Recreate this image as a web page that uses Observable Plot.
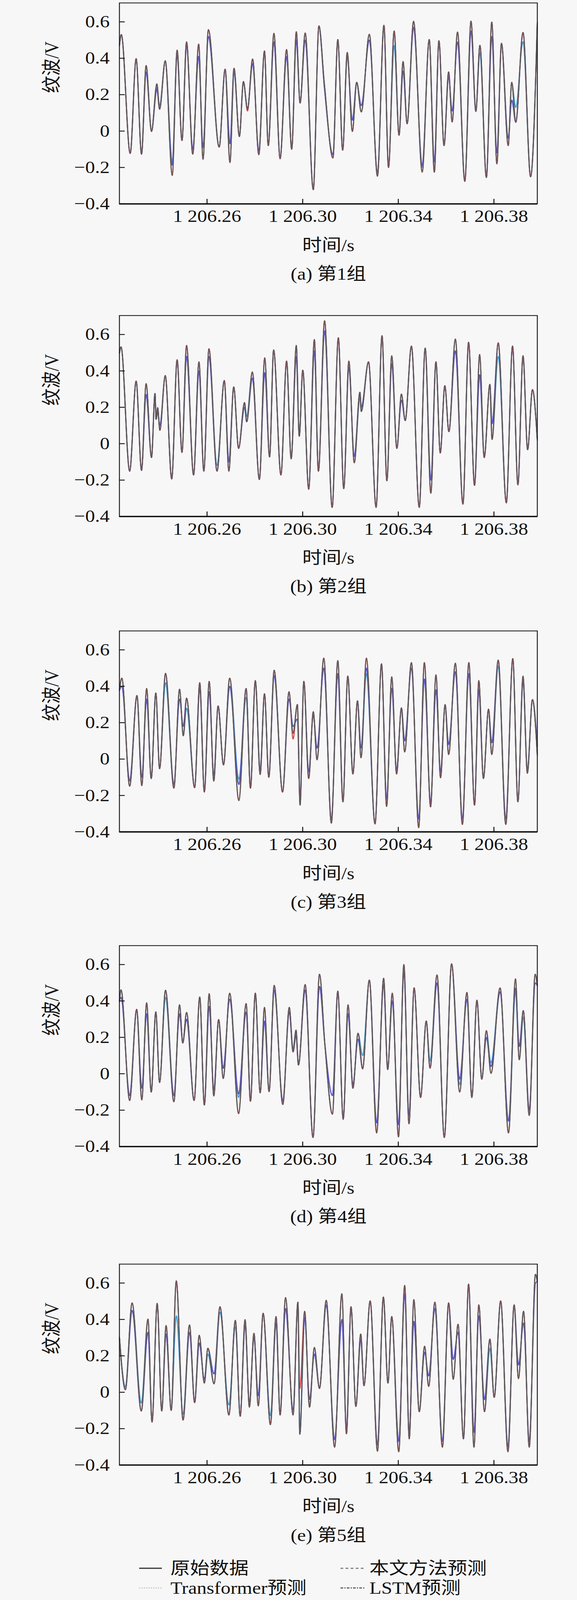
<!DOCTYPE html>
<html><head><meta charset="utf-8">
<script src="https://cdn.jsdelivr.net/npm/d3@7"></script>
<script src="https://cdn.jsdelivr.net/npm/@observablehq/plot@0.6"></script>
<style>
html,body{margin:0;padding:0;background:#f7f7f7;overflow:hidden;}
#root{position:relative;width:1476px;height:4642px;background:#f7f7f7;overflow:hidden;}
#root svg{position:absolute;left:0;}
</style></head><body><div id="root"></div>
<script>
// time base (s); times stored in ms after the base
const BASE = 1206.22;
const xTicks = [1206.26, 1206.30, 1206.34, 1206.38];
const yTicks = [-0.4, -0.2, 0, 0.2, 0.4, 0.6];
const captions = ["(a) 第1组", "(b) 第2组", "(c) 第3组", "(d) 第4组", "(e) 第5组"];
const seriesNames = ["原始数据", "本文方法预测", "Transformer预测", "LSTM预测"];

// ---- panel (a) ----
const tA = [3.35,4.14,7.86,10.34,12.59,14.51,16.77,19.02,20.15,22.52,25.45,27.48,29.51,31.43,34.02,36.50,38.31,40.56,45.07,47.56,49.59,51.28,53.53,55.22,56.92,59.06,61.65,64.02,65.60,67.97,70.56,73.27,75.41,77.33,78.91,81.05,84.44,86.80,89.06,92.67,94.70,96.73,98.64,100.79,102.59,104.51,107.89,111.28,113.98,115.90,118.27,120.30,121.99,123.68,126.39,130.00,132.93,135.07,136.99,139.13,141.05,142.52,144.77,147.82,150.41,152.44,154.13,156.84,159.10,161.24,163.16,165.97,167.44,169.13,172.17,175.33,178.15];
const vA = [0.47,0.53,-0.123,0.398,-0.127,0.36,-0.002,0.26,0.12,0.386,-0.244,0.445,-0.052,0.49,-0.127,0.478,-0.155,0.557,-0.088,0.34,-0.173,0.345,-0.03,0.272,0.12,0.396,-0.13,0.44,-0.08,0.537,-0.152,0.448,-0.10,0.546,0.154,0.539,-0.322,0.578,0.26,-0.148,0.503,-0.105,0.432,-0.002,0.268,0.105,0.532,-0.248,0.581,-0.2,0.55,-0.023,0.382,0.04,0.603,-0.226,0.503,-0.226,0.496,-0.08,0.325,0.05,0.544,-0.276,0.604,0.108,0.471,-0.255,0.599,-0.18,0.482,-0.08,0.268,0.048,0.542,-0.251,0.596];
const lstmA = [[14.51,0.325],[19.02,0.23],[25.45,-0.187],[27.48,0.42],[31.43,0.47],[34.02,-0.10],[36.50,0.41],[38.31,-0.09],[40.56,0.52],[49.59,-0.07],[59.06,0.37],[61.65,-0.11],[67.97,0.49],[73.27,0.41],[77.33,0.50],[81.05,0.50],[89.06,0.24],[92.67,-0.13],[98.64,0.41],[100.79,0.06],[104.51,0.14],[107.89,0.50],[111.28,-0.23],[121.99,0.33],[126.39,0.57],[130.00,-0.19],[135.07,-0.17],[141.05,0.30],[142.52,0.11],[144.77,0.49],[150.41,0.55],[159.10,0.52],[161.24,-0.12],[165.97,-0.04],[167.44,0.17]];
const transA = [[19.02,0.24],[20.15,0.14],[25.45,-0.17],[51.28,0.32],[118.27,0.47],[130.00,-0.20],[154.13,0.43],[169.13,0.13],[172.17,0.49]];
const oursA = [[56.92,0.11]];

// ---- panel (b) ----
const tB = [3.35,4.02,7.63,10.34,12.59,14.51,16.77,18.23,18.68,19.36,20.26,22.52,25.23,27.48,29.51,31.43,34.36,36.62,38.65,40.79,44.17,47.22,49.13,51.16,53.20,55.68,56.58,58.95,61.88,64.13,66.16,67.86,70.90,73.27,75.19,77.33,78.57,80.04,82.52,84.89,86.58,89.17,92.33,94.92,97.18,99.32,101.58,103.95,104.51,107.55,110.71,113.19,115.22,117.25,119.40,121.31,122.89,125.49,128.76,131.24,133.61,135.75,137.55,139.47,141.16,143.87,147.03,149.40,151.88,154.02,155.94,158.31,159.21,161.80,165.18,167.78,170.03,172.17,174.09,176.12,178.15];
const vB = [0.497,0.532,-0.151,0.344,-0.147,0.33,-0.076,0.276,0.134,0.198,0.073,0.374,-0.194,0.461,-0.048,0.54,-0.172,0.45,-0.151,0.522,-0.151,0.347,-0.151,0.312,-0.026,0.226,0.12,0.394,-0.197,0.472,-0.073,0.515,-0.172,0.454,-0.083,0.54,0.041,0.404,-0.25,0.572,-0.151,0.675,-0.35,0.582,-0.247,0.454,-0.105,0.283,0.177,0.45,-0.35,0.593,-0.204,0.483,-0.026,0.273,0.127,0.536,-0.35,0.525,-0.272,0.45,-0.051,0.319,0.066,0.575,-0.332,0.557,-0.229,0.49,-0.076,0.326,0.023,0.554,-0.325,0.536,-0.226,0.483,-0.033,0.297,0.02];
const lstmB = [[14.51,0.27],[19.36,0.17],[20.26,0.10],[31.43,0.48],[36.62,0.40],[40.79,0.48],[49.13,-0.10],[55.68,0.20],[58.95,0.36],[64.13,0.39],[77.33,0.48],[84.89,0.51],[89.17,0.62],[99.32,0.42],[101.58,-0.07],[104.51,0.20],[117.25,0.44],[121.31,0.24],[133.61,-0.20],[143.87,0.51],[154.02,0.38],[159.21,0.11]];
const transB = [[44.17,-0.12],[56.58,0.15],[103.95,0.25],[161.80,0.48]];
const oursB = [];

// ---- panel (c) ----
const tC = [3.35,4.36,7.63,10.68,12.71,14.74,16.65,18.57,20.15,22.63,26.13,28.50,30.07,31.43,34.81,36.95,38.87,40.90,42.82,44.62,46.88,49.47,53.31,56.35,58.16,60.19,62.22,64.02,65.83,68.08,71.58,74.29,75.98,77.78,78.91,80.49,82.52,84.44,86.01,88.83,91.99,94.70,96.84,98.87,101.01,102.93,104.40,106.65,110.26,112.97,115.11,117.25,119.28,121.31,122.67,125.49,128.53,130.90,133.50,135.75,137.67,139.58,141.05,143.87,146.80,149.51,151.88,153.68,155.60,157.74,159.10,161.80,164.96,167.89,170.03,172.17,173.98,176.12,178.15];
const vC = [0.377,0.445,-0.149,0.349,-0.146,0.388,-0.107,0.363,-0.053,0.471,-0.16,0.384,0.128,0.335,-0.157,0.42,-0.181,0.427,-0.121,0.292,-0.032,0.445,-0.228,0.388,-0.16,0.431,-0.085,0.359,-0.1,0.488,-0.181,0.37,0.142,0.30,-0.253,0.427,-0.107,0.26,-0.004,0.555,-0.352,0.541,-0.235,0.456,-0.082,0.32,0.007,0.555,-0.356,0.523,-0.26,0.452,-0.082,0.281,0.039,0.53,-0.377,0.53,-0.263,0.463,-0.103,0.299,0.025,0.527,-0.359,0.53,-0.253,0.431,-0.107,0.274,0.025,0.544,-0.359,0.552,-0.235,0.456,-0.078,0.327,0.021];
const lstmC = [[4.36,0.40],[7.63,-0.12],[12.71,-0.10],[14.74,0.33],[26.13,-0.14],[28.50,0.33],[30.07,0.18],[36.95,0.39],[40.90,0.37],[42.82,-0.09],[49.47,0.40],[53.31,-0.14],[62.22,-0.06],[68.08,0.46],[74.29,0.33],[75.98,0.18],[77.78,0.22],[78.91,-0.22],[82.52,-0.07],[84.44,0.24],[86.01,0.06],[88.83,0.50],[91.99,-0.33],[94.70,0.47],[104.40,0.06],[106.65,0.50],[115.11,-0.22],[117.25,0.39],[119.28,-0.06],[122.67,0.10],[125.49,0.50],[128.53,-0.33],[130.90,0.44],[133.50,-0.24],[135.75,0.38],[137.67,-0.07],[141.05,0.08],[143.87,0.48],[146.80,-0.33],[149.51,0.47],[153.68,0.38],[159.10,0.09],[164.96,-0.33],[172.17,0.43],[173.98,-0.06],[178.15,0.07]];
const transC = [[22.63,0.42],[31.43,0.28],[53.31,-0.11],[56.35,0.34],[106.65,0.47],[161.80,0.51]];
const oursC = [[75.98,0.11]];

// ---- panel (d) ----
const tD = [3.35,4.02,7.63,10.56,12.71,14.74,16.65,18.57,20.15,22.63,26.13,28.50,29.85,31.43,34.59,36.95,38.87,40.90,42.82,44.85,46.77,49.47,53.20,56.35,58.16,60.19,62.22,64.02,65.94,68.08,71.69,74.40,75.98,77.22,78.23,81.05,84.32,87.03,89.28,92.44,94.70,96.95,98.98,101.01,103.16,105.07,107.89,110.94,113.87,115.56,117.48,120.07,122.33,124.47,126.61,129.32,131.69,133.27,136.20,139.24,142.29,145.67,148.72,150.75,152.89,154.92,156.84,158.76,162.59,166.09,169.02,170.59,172.28,174.77,177.25,178.15];
const vD = [0.397,0.461,-0.147,0.354,-0.144,0.39,-0.101,0.34,-0.048,0.459,-0.154,0.379,0.169,0.337,-0.147,0.422,-0.172,0.44,-0.122,0.298,-0.026,0.443,-0.219,0.386,-0.151,0.443,-0.105,0.365,-0.098,0.486,-0.169,0.365,0.12,0.24,0.048,0.49,-0.35,0.547,0.162,-0.222,0.454,-0.25,0.379,-0.08,0.223,0.027,0.515,-0.325,0.525,0.023,0.443,-0.347,0.6,-0.275,0.472,-0.13,0.29,0.031,0.543,-0.35,0.604,-0.101,0.447,-0.13,0.404,-0.03,0.237,0.002,0.472,-0.325,0.522,0.077,0.347,-0.229,0.547,0.483];
const lstmD = [[4.02,0.42],[7.63,-0.12],[12.71,-0.08],[14.74,0.33],[26.13,-0.12],[28.50,0.33],[31.43,0.30],[40.90,0.37],[42.82,-0.09],[46.77,0.03],[49.47,0.41],[53.20,-0.11],[56.35,0.34],[64.02,0.29],[68.08,0.46],[71.69,-0.15],[74.40,0.34],[77.22,0.21],[81.05,0.46],[87.03,0.48],[92.44,-0.12],[98.98,0.33],[101.01,-0.06],[103.16,0.19],[110.94,-0.27],[113.87,0.49],[117.48,0.40],[120.07,-0.28],[122.33,0.56],[124.47,-0.23],[136.20,0.50],[145.67,-0.03],[148.72,0.41],[156.84,0.20],[158.76,0.04],[162.59,0.45],[166.09,-0.26],[169.02,0.47],[170.59,0.15],[174.77,-0.20],[177.25,0.50]];
const transD = [[22.63,0.42],[53.20,-0.13],[75.98,0.14],[105.07,0.10],[133.27,0.07],[145.67,-0.06],[158.76,0.06],[169.02,0.45],[172.28,0.31]];
const oursD = [];

// ---- panel (e) ----
const tE = [3.35,5.83,8.65,12.48,15.30,16.99,19.14,21.05,22.86,25.00,27.14,29.96,32.67,34.81,36.73,38.87,40.34,42.93,45.41,49.13,51.84,53.87,55.90,57.71,59.62,61.43,63.46,66.50,68.87,70.56,72.82,75.98,78.01,78.80,80.83,82.86,84.89,87.03,89.85,93.35,96.39,98.31,100.22,102.25,104.28,105.64,108.23,111.28,113.76,115.67,117.25,120.18,122.67,124.58,126.50,128.76,131.01,132.71,135.30,138.45,141.05,142.97,145.00,147.25,149.40,151.65,153.68,156.05,158.31,160.11,162.82,165.86,168.45,170.26,172.40,174.77,177.36,178.15];
const vE = [0.302,0.014,0.491,-0.103,0.402,-0.164,0.488,-0.103,0.367,-0.1,0.612,-0.153,0.37,-0.057,0.313,0.05,0.242,0.046,0.47,-0.125,0.395,-0.132,0.399,-0.082,0.324,-0.075,0.434,-0.178,0.416,-0.125,0.52,-0.125,0.495,-0.231,0.445,-0.082,0.246,0.021,0.505,-0.302,0.541,-0.228,0.47,-0.078,0.32,0.036,0.502,-0.324,0.523,0.05,0.416,-0.327,0.587,-0.256,0.509,-0.107,0.253,0.032,0.495,-0.302,0.491,0.071,0.374,-0.256,0.594,-0.302,0.48,-0.107,0.292,-0.028,0.502,-0.327,0.48,0.075,0.445,-0.302,0.648,0.608];
const lstmE = [[8.65,0.45],[15.30,0.33],[22.86,0.32],[32.67,0.33],[36.73,0.27],[38.87,0.07],[42.93,0.10],[55.90,0.37],[57.71,-0.06],[59.62,0.30],[61.43,-0.02],[68.87,0.38],[72.82,0.46],[75.98,-0.10],[80.83,0.41],[82.86,-0.04],[84.89,0.21],[89.85,0.48],[93.35,-0.26],[96.39,0.40],[98.31,-0.20],[104.28,0.29],[111.28,-0.29],[120.18,-0.27],[122.67,0.54],[124.58,-0.22],[126.50,0.39],[131.01,0.22],[132.71,0.09],[135.30,0.46],[138.45,-0.27],[142.97,0.18],[145.00,0.33],[151.65,-0.22],[153.68,0.42],[156.05,-0.04],[165.86,-0.30],[170.26,0.15],[172.40,0.38],[174.77,-0.27],[177.36,0.60]];
const transE = [[5.83,0.03],[12.48,-0.06],[27.14,0.42],[29.96,-0.12],[40.34,0.21],[45.41,0.44],[49.13,-0.07],[51.84,0.36],[66.50,-0.13],[158.31,0.24]];
const oursE = [[78.80,0.02]];

const panels = [
  {t: tA, v: vA, lstm: lstmA, trans: transA, ours: oursA, top: 8},
  {t: tB, v: vB, lstm: lstmB, trans: transB, ours: oursB, top: 915},
  {t: tC, v: vC, lstm: lstmC, trans: transC, ours: oursC, top: 1830},
  {t: tD, v: vD, lstm: lstmD, trans: transD, ours: oursD, top: 2743},
  {t: tE, v: vE, lstm: lstmE, trans: transE, ours: oursE, top: 3667}
];

const FONT = "'Liberation Serif','Noto Sans CJK SC',serif";
const COLORS = {orig: "#585858", ours: "#d24a4a", trans: "#3fa0d6", lstm: "#5656cc"};

function rowsFor(p, overrides, name) {
  const m = new Map(overrides.map(([k, val]) => [k.toFixed(2), val]));
  const n = Math.min(p.t.length, p.v.length);
  const out = [];
  for (let i = 0; i < n; i++) {
    const key = p.t[i].toFixed(2);
    out.push({t: BASE + p.t[i] / 1000, v: m.has(key) ? m.get(key) : p.v[i], s: name});
  }
  return out;
}

const fmtX = d => "1 206." + d.toFixed(2).split(".")[1];
const fmtY = d => d === 0 ? "0" : (d < 0 ? "\u2212" : "") + Math.abs(d).toFixed(1);

const root = document.getElementById("root");
panels.forEach((p, i) => {
  if (p.t.length !== p.v.length) console.warn("length mismatch panel", i, p.t.length, p.v.length);
  const orig = rowsFor(p, [], seriesNames[0]);
  const ours = rowsFor(p, p.ours, seriesNames[1]);
  const trans = rowsFor(p, p.trans, seriesNames[2]);
  const lstm = rowsFor(p, p.lstm, seriesNames[3]);
  const chart = Plot.plot({
    width: 1476,
    height: 8 + 583 + 250,
    marginLeft: 305, marginRight: 102, marginTop: 8, marginBottom: 250,
    style: {background: "transparent", fontFamily: FONT, fontSize: "50px", color: "#111", overflow: "visible"},
    x: {domain: [BASE + 3.35 / 1000, BASE + 178.15 / 1000]},
    y: {domain: [-0.4, 0.704]},
    marks: [
      Plot.line(trans, {x: "t", y: "v", stroke: COLORS.trans, strokeWidth: 2.8, curve: "monotone-x", strokeDasharray: "3,1.5"}),
      Plot.line(lstm, {x: "t", y: "v", stroke: COLORS.lstm, strokeWidth: 3, curve: "monotone-x", strokeDasharray: "7,2,2,2"}),
      Plot.line(ours, {x: "t", y: "v", stroke: COLORS.ours, strokeWidth: 2.8, curve: "monotone-x", strokeDasharray: "6,2"}),
      Plot.line(orig, {x: "t", y: "v", stroke: COLORS.orig, strokeWidth: 2.8, curve: "monotone-x"}),
      Plot.frame({stroke: "#1e1e1e", strokeWidth: 2.4}),
      Plot.ruleY([-0.4], {stroke: "#111", strokeWidth: 4}),
      Plot.axisY({ticks: yTicks, tickSize: -14, tickPadding: 39, tickFormat: fmtY, label: null, fontSize: 50, strokeWidth: 2.5, stroke: "#111"}),
      Plot.axisX({ticks: xTicks, tickSize: -14, tickPadding: 31, tickFormat: fmtX, label: null, fontSize: 50, strokeWidth: 2.5, stroke: "#111"}),
      Plot.text(["纹波/V"], {text: d => d, frameAnchor: "left", dx: -173, dy: -30, rotate: -90, fontSize: 50, fill: "#111"}),
      Plot.text(["时间/s"], {text: d => d, frameAnchor: "bottom", dy: 137, fontSize: 50, fill: "#111"}),
      Plot.text([captions[i]], {text: d => d, frameAnchor: "bottom", dy: 220, fontSize: 50, fill: "#111"})
    ]
  });
  chart.style.top = (p.top - 8) + "px";
  root.appendChild(chart);
});

// ---- legend (below the last panel) ----
const legendItems = [
  {name: seriesNames[0], col: 0, row: 0, stroke: "#333", dash: null, w: 3.5},
  {name: seriesNames[1], col: 1, row: 0, stroke: "#777", dash: "7,6", w: 3},
  {name: seriesNames[2], col: 0, row: 1, stroke: "#c4c4c4", dash: "3,3", w: 3},
  {name: seriesNames[3], col: 1, row: 1, stroke: "#555", dash: "7,3,3,3", w: 3}
];
const legendCols = [{x1: 356, x2: 414, tx: 436}, {x1: 871, x2: 932, tx: 945}];
const legendRows = [50, 107];
const lg = d3.create("svg").attr("width", 1476).attr("height", 142).style("top", "4500px");
legendItems.forEach(it => {
  const c = legendCols[it.col], y = legendRows[it.row];
  const ln = lg.append("line").attr("x1", c.x1).attr("x2", c.x2).attr("y1", y).attr("y2", y)
    .attr("stroke", it.stroke).attr("stroke-width", it.w);
  if (it.dash) ln.attr("stroke-dasharray", it.dash);
  lg.append("text").attr("x", c.tx).attr("y", y).attr("dominant-baseline", "central")
    .attr("font-family", FONT).attr("font-size", 50).attr("fill", "#111").text(it.name);
});
root.appendChild(lg.node());

// If the visible window is shorter than the page, fit the whole page into it.
const PAGE_H = 4642;
const ih = window.innerHeight;
if (ih && ih < PAGE_H - 1) {
  root.style.transformOrigin = "0 0";
  root.style.transform = `scaleY(${ih / PAGE_H})`;
}
</script></body></html>
